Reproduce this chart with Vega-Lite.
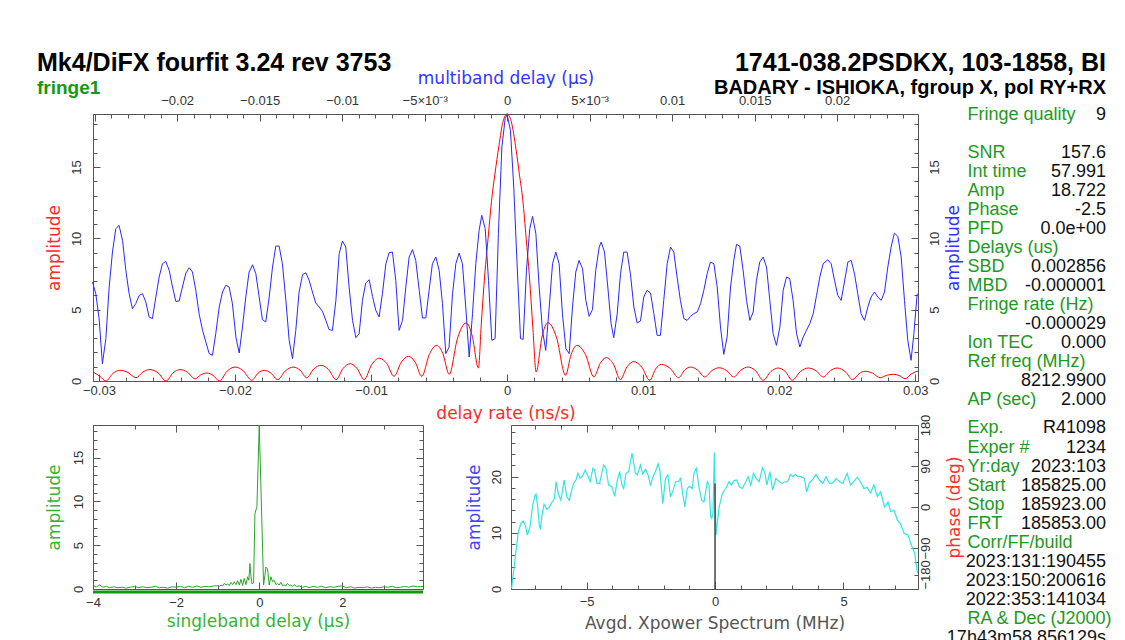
{
  "$schema": "https://vega.github.io/schema/vega-lite/v6.json",
  "padding": {"left": 37, "top": 50, "right": 0, "bottom": 0},
  "background": "white",
  "title": {"text": "Mk4/DiFX fourfit 3.24 rev 3753", "subtitle": "fringe1", "anchor": "start", "frame": "group", "dx": -56, "dy": 47, "offset": 0, "font": "Liberation Sans", "fontSize": 25, "fontWeight": "bold", "color": "#000", "subtitleFont": "Liberation Sans", "subtitleFontSize": 19, "subtitleFontWeight": "bold", "subtitleColor": "#139a13", "subtitlePadding": 3},
  "datasets": {
    "rate": [
      {"r": -0.03044, "a": 0.63}, {"r": -0.02996, "a": 0.35}, {"r": -0.02949, "a": 0}, {"r": -0.02898, "a": 0.53}, {"r": -0.02846, "a": 0.75}, {"r": -0.02787, "a": 0.6}, {"r": -0.02728, "a": 0.23}, {"r": -0.02677, "a": 0.63}, {"r": -0.02625, "a": 0.8}, {"r": -0.02566, "a": 0.57}, {"r": -0.02507, "a": 0}, {"r": -0.02456, "a": 0.57}, {"r": -0.02404, "a": 0.8}, {"r": -0.02349, "a": 0.61}, {"r": -0.02294, "a": 0.15}, {"r": -0.02251, "a": 0.44}, {"r": -0.02208, "a": 0.56}, {"r": -0.02162, "a": 0.4}, {"r": -0.02115, "a": 0}, {"r": -0.02058, "a": 0.69}, {"r": -0.02, "a": 0.98}, {"r": -0.01939, "a": 0.71}, {"r": -0.01877, "a": 0.05}, {"r": -0.01832, "a": 0.54}, {"r": -0.01787, "a": 0.75}, {"r": -0.01737, "a": 0.56}, {"r": -0.01686, "a": 0.1}, {"r": -0.01629, "a": 0.72}, {"r": -0.01571, "a": 0.98}, {"r": -0.01522, "a": 0.76}, {"r": -0.01473, "a": 0.23}, {"r": -0.01421, "a": 0.85}, {"r": -0.01368, "a": 1.1}, {"r": -0.01313, "a": 0.81}, {"r": -0.01257, "a": 0.1}, {"r": -0.01206, "a": 0.88}, {"r": -0.01154, "a": 1.21}, {"r": -0.01103, "a": 0.88}, {"r": -0.01051, "a": 0.1}, {"r": -0.00995, "a": 1.16}, {"r": -0.00939, "a": 1.6}, {"r": -0.00885, "a": 1.23}, {"r": -0.00831, "a": 0.33}, {"r": -0.00778, "a": 1.32}, {"r": -0.00725, "a": 1.73}, {"r": -0.00676, "a": 1.32}, {"r": -0.00627, "a": 0.33}, {"r": -0.00572, "a": 1.86}, {"r": -0.00517, "a": 2.5}, {"r": -0.00472, "a": 1.91}, {"r": -0.00426, "a": 0.47}, {"r": -0.00364, "a": 3.02}, {"r": -0.00301, "a": 4.07}, {"r": -0.00256, "a": 3.14}, {"r": -0.00211, "a": 0.91}, {"r": -0.0019, "a": 4.0}, {"r": -0.00164, "a": 7.5}, {"r": -0.0014, "a": 10.0}, {"r": -0.00115, "a": 12.6}, {"r": -0.0009, "a": 14.5}, {"r": -0.0006, "a": 16.5}, {"r": -0.0003, "a": 18.2}, {"r": 0, "a": 18.72}, {"r": 0.0003, "a": 18.2}, {"r": 0.00066, "a": 16.2}, {"r": 0.0009, "a": 14.5}, {"r": 0.00115, "a": 12.7}, {"r": 0.0014, "a": 10.0}, {"r": 0.00164, "a": 7.3}, {"r": 0.0019, "a": 3.6}, {"r": 0.00213, "a": 0.63}, {"r": 0.00256, "a": 3.08}, {"r": 0.00299, "a": 4.1}, {"r": 0.00364, "a": 3.02}, {"r": 0.00429, "a": 0.4}, {"r": 0.00471, "a": 1.88}, {"r": 0.00513, "a": 2.5}, {"r": 0.00576, "a": 1.85}, {"r": 0.00638, "a": 0.28}, {"r": 0.00684, "a": 1.24}, {"r": 0.00729, "a": 1.64}, {"r": 0.00781, "a": 1.19}, {"r": 0.00832, "a": 0.1}, {"r": 0.00881, "a": 0.99}, {"r": 0.0093, "a": 1.36}, {"r": 0.00989, "a": 0.98}, {"r": 0.01048, "a": 0.05}, {"r": 0.01091, "a": 0.84}, {"r": 0.01134, "a": 1.17}, {"r": 0.01198, "a": 0.89}, {"r": 0.01261, "a": 0.23}, {"r": 0.01304, "a": 0.76}, {"r": 0.01347, "a": 0.98}, {"r": 0.014, "a": 0.77}, {"r": 0.01453, "a": 0.28}, {"r": 0.01506, "a": 0.74}, {"r": 0.01558, "a": 0.93}, {"r": 0.01612, "a": 0.74}, {"r": 0.01666, "a": 0.28}, {"r": 0.01719, "a": 0.77}, {"r": 0.01772, "a": 0.98}, {"r": 0.01827, "a": 0.71}, {"r": 0.01882, "a": 0.05}, {"r": 0.01938, "a": 0.66}, {"r": 0.01993, "a": 0.91}, {"r": 0.02045, "a": 0.66}, {"r": 0.02096, "a": 0.05}, {"r": 0.02155, "a": 0.66}, {"r": 0.02213, "a": 0.91}, {"r": 0.02269, "a": 0.73}, {"r": 0.02324, "a": 0.28}, {"r": 0.02376, "a": 0.73}, {"r": 0.02427, "a": 0.91}, {"r": 0.02484, "a": 0.67}, {"r": 0.0254, "a": 0.1}, {"r": 0.02586, "a": 0.51}, {"r": 0.02631, "a": 0.68}, {"r": 0.02686, "a": 0.55}, {"r": 0.02741, "a": 0.23}, {"r": 0.0279, "a": 0.4}, {"r": 0.02839, "a": 0.47}, {"r": 0.02882, "a": 0.38}, {"r": 0.02925, "a": 0.16}, {"r": 0.02972, "a": 0.5}, {"r": 0.0302, "a": 0.7}
    ],
    "mbd": [
      {"m": -0.02513, "a": 6.94}, {"m": -0.02493, "a": 6.12}, {"m": -0.02473, "a": 4.37}, {"m": -0.02453, "a": 1.21}, {"m": -0.02432, "a": 2.97}, {"m": -0.02412, "a": 6.59}, {"m": -0.02392, "a": 9.04}, {"m": -0.02372, "a": 10.68}, {"m": -0.02352, "a": 10.91}, {"m": -0.02331, "a": 9.86}, {"m": -0.02311, "a": 7.76}, {"m": -0.02291, "a": 6.12}, {"m": -0.02271, "a": 5.07}, {"m": -0.02251, "a": 5.42}, {"m": -0.0223, "a": 6.0}, {"m": -0.0221, "a": 6.12}, {"m": -0.0219, "a": 5.54}, {"m": -0.0217, "a": 4.49}, {"m": -0.0215, "a": 4.37}, {"m": -0.02129, "a": 5.89}, {"m": -0.02109, "a": 7.29}, {"m": -0.02089, "a": 8.22}, {"m": -0.02069, "a": 8.39}, {"m": -0.02048, "a": 7.76}, {"m": -0.02028, "a": 6.59}, {"m": -0.02008, "a": 5.58}, {"m": -0.01988, "a": 5.61}, {"m": -0.01968, "a": 6.59}, {"m": -0.01947, "a": 7.57}, {"m": -0.01927, "a": 7.94}, {"m": -0.01907, "a": 7.64}, {"m": -0.01887, "a": 6.36}, {"m": -0.01867, "a": 4.72}, {"m": -0.01846, "a": 3.55}, {"m": -0.01826, "a": 2.73}, {"m": -0.01806, "a": 1.92}, {"m": -0.01786, "a": 1.8}, {"m": -0.01766, "a": 3.32}, {"m": -0.01745, "a": 5.19}, {"m": -0.01725, "a": 6.24}, {"m": -0.01705, "a": 6.71}, {"m": -0.01685, "a": 6.59}, {"m": -0.01665, "a": 5.42}, {"m": -0.01644, "a": 3.08}, {"m": -0.01624, "a": 1.96}, {"m": -0.01604, "a": 3.79}, {"m": -0.01584, "a": 5.89}, {"m": -0.01564, "a": 7.64}, {"m": -0.01543, "a": 8.15}, {"m": -0.01523, "a": 7.52}, {"m": -0.01503, "a": 5.89}, {"m": -0.01483, "a": 4.3}, {"m": -0.01463, "a": 4.14}, {"m": -0.01442, "a": 5.89}, {"m": -0.01422, "a": 7.99}, {"m": -0.01402, "a": 9.46}, {"m": -0.01382, "a": 9.46}, {"m": -0.01362, "a": 8.22}, {"m": -0.01341, "a": 5.65}, {"m": -0.01321, "a": 2.85}, {"m": -0.01301, "a": 1.57}, {"m": -0.01281, "a": 3.55}, {"m": -0.01261, "a": 6.24}, {"m": -0.0124, "a": 7.45}, {"m": -0.0122, "a": 7.59}, {"m": -0.012, "a": 7.06}, {"m": -0.0118, "a": 6.24}, {"m": -0.0116, "a": 5.47}, {"m": -0.01139, "a": 5.19}, {"m": -0.01119, "a": 4.88}, {"m": -0.01099, "a": 4.25}, {"m": -0.01079, "a": 3.6}, {"m": -0.01059, "a": 3.55}, {"m": -0.01038, "a": 5.65}, {"m": -0.01018, "a": 8.93}, {"m": -0.00998, "a": 9.81}, {"m": -0.00978, "a": 9.39}, {"m": -0.00958, "a": 6.59}, {"m": -0.00937, "a": 4.25}, {"m": -0.00917, "a": 3.04}, {"m": -0.00897, "a": 3.32}, {"m": -0.00877, "a": 5.65}, {"m": -0.00857, "a": 6.87}, {"m": -0.00836, "a": 7.1}, {"m": -0.00816, "a": 5.93}, {"m": -0.00796, "a": 4.95}, {"m": -0.00776, "a": 4.49}, {"m": -0.00756, "a": 6.12}, {"m": -0.00735, "a": 8.22}, {"m": -0.00715, "a": 9.0}, {"m": -0.00695, "a": 9.04}, {"m": -0.00675, "a": 7.06}, {"m": -0.00655, "a": 3.55}, {"m": -0.00634, "a": 4.25}, {"m": -0.00614, "a": 6.59}, {"m": -0.00594, "a": 8.69}, {"m": -0.00574, "a": 9.21}, {"m": -0.00554, "a": 8.46}, {"m": -0.00533, "a": 6.36}, {"m": -0.00513, "a": 4.42}, {"m": -0.00493, "a": 4.42}, {"m": -0.00473, "a": 6.36}, {"m": -0.00453, "a": 8.22}, {"m": -0.00432, "a": 8.69}, {"m": -0.00412, "a": 7.76}, {"m": -0.00392, "a": 5.42}, {"m": -0.00372, "a": 1.92}, {"m": -0.00352, "a": 2.38}, {"m": -0.00331, "a": 6.12}, {"m": -0.00311, "a": 8.22}, {"m": -0.00291, "a": 8.97}, {"m": -0.00271, "a": 8.22}, {"m": -0.00251, "a": 5.19}, {"m": -0.0023, "a": 1.68}, {"m": -0.0021, "a": 4.72}, {"m": -0.0019, "a": 8.22}, {"m": -0.0017, "a": 10.56}, {"m": -0.00154, "a": 11.61}, {"m": -0.00133, "a": 10.68}, {"m": -0.00113, "a": 7.06}, {"m": -0.00093, "a": 2.85}, {"m": -0.00073, "a": 2.97}, {"m": -0.00053, "a": 10.33}, {"m": -0.00032, "a": 16.4}, {"m": -0.00012, "a": 18.4}, {"m": 0, "a": 18.69},
      {"m": 0.0002, "a": 17.57}, {"m": 0.0004, "a": 13.6}, {"m": 0.00061, "a": 7.99}, {"m": 0.00081, "a": 2.97}, {"m": 0.00097, "a": 2.92}, {"m": 0.00117, "a": 7.76}, {"m": 0.00137, "a": 10.68}, {"m": 0.00154, "a": 11.54}, {"m": 0.00174, "a": 10.33}, {"m": 0.00194, "a": 6.59}, {"m": 0.00214, "a": 3.55}, {"m": 0.00234, "a": 2.15}, {"m": 0.00255, "a": 5.19}, {"m": 0.00275, "a": 8.22}, {"m": 0.00295, "a": 9.04}, {"m": 0.00315, "a": 8.22}, {"m": 0.00335, "a": 4.72}, {"m": 0.00356, "a": 2.27}, {"m": 0.00376, "a": 1.92}, {"m": 0.00396, "a": 5.19}, {"m": 0.00416, "a": 7.64}, {"m": 0.00436, "a": 8.46}, {"m": 0.00457, "a": 7.87}, {"m": 0.00477, "a": 5.65}, {"m": 0.00497, "a": 4.53}, {"m": 0.00517, "a": 5.0}, {"m": 0.00537, "a": 7.76}, {"m": 0.00558, "a": 9.39}, {"m": 0.0057, "a": 9.74}, {"m": 0.0059, "a": 9.04}, {"m": 0.0061, "a": 6.59}, {"m": 0.0063, "a": 4.02}, {"m": 0.00646, "a": 3.04}, {"m": 0.00667, "a": 4.72}, {"m": 0.00687, "a": 7.52}, {"m": 0.00707, "a": 9.04}, {"m": 0.00727, "a": 9.04}, {"m": 0.00747, "a": 7.52}, {"m": 0.00768, "a": 5.19}, {"m": 0.00788, "a": 4.07}, {"m": 0.00808, "a": 4.21}, {"m": 0.00828, "a": 5.89}, {"m": 0.00848, "a": 6.36}, {"m": 0.00869, "a": 6.17}, {"m": 0.00889, "a": 4.72}, {"m": 0.00909, "a": 3.2}, {"m": 0.00929, "a": 3.2}, {"m": 0.00949, "a": 5.65}, {"m": 0.0097, "a": 8.22}, {"m": 0.0099, "a": 9.39}, {"m": 0.0101, "a": 9.04}, {"m": 0.0103, "a": 7.29}, {"m": 0.0105, "a": 5.65}, {"m": 0.01071, "a": 4.37}, {"m": 0.01091, "a": 4.25}, {"m": 0.01111, "a": 4.53}, {"m": 0.01131, "a": 4.72}, {"m": 0.01152, "a": 4.84}, {"m": 0.01172, "a": 5.42}, {"m": 0.01192, "a": 6.36}, {"m": 0.01212, "a": 7.52}, {"m": 0.01232, "a": 8.34}, {"m": 0.01253, "a": 8.22}, {"m": 0.01273, "a": 6.59}, {"m": 0.01293, "a": 3.79}, {"m": 0.01313, "a": 1.87}, {"m": 0.01333, "a": 3.08}, {"m": 0.01354, "a": 6.59}, {"m": 0.01374, "a": 8.5}, {"m": 0.0139, "a": 9.58}, {"m": 0.0141, "a": 9.46}, {"m": 0.0143, "a": 7.76}, {"m": 0.01451, "a": 5.65}, {"m": 0.01471, "a": 4.25}, {"m": 0.01491, "a": 4.84}, {"m": 0.01511, "a": 7.06}, {"m": 0.01531, "a": 8.34}, {"m": 0.01552, "a": 8.69}, {"m": 0.01572, "a": 7.99}, {"m": 0.01592, "a": 5.65}, {"m": 0.01612, "a": 3.32}, {"m": 0.01632, "a": 2.5}, {"m": 0.01653, "a": 3.79}, {"m": 0.01673, "a": 6.36}, {"m": 0.01693, "a": 7.29}, {"m": 0.01713, "a": 7.17}, {"m": 0.01733, "a": 5.65}, {"m": 0.01754, "a": 3.32}, {"m": 0.01774, "a": 2.38}, {"m": 0.01794, "a": 3.08}, {"m": 0.01814, "a": 3.55}, {"m": 0.01834, "a": 4.02}, {"m": 0.01855, "a": 4.72}, {"m": 0.01875, "a": 6.0}, {"m": 0.01895, "a": 7.29}, {"m": 0.01915, "a": 8.22}, {"m": 0.01943, "a": 8.5}, {"m": 0.01964, "a": 8.22}, {"m": 0.01984, "a": 7.06}, {"m": 0.02004, "a": 6.0}, {"m": 0.02024, "a": 5.65}, {"m": 0.02044, "a": 6.94}, {"m": 0.02065, "a": 8.34}, {"m": 0.02085, "a": 8.46}, {"m": 0.02105, "a": 7.52}, {"m": 0.02125, "a": 6.12}, {"m": 0.02145, "a": 4.72}, {"m": 0.02166, "a": 4.25}, {"m": 0.02186, "a": 5.19}, {"m": 0.02206, "a": 5.89}, {"m": 0.02226, "a": 6.24}, {"m": 0.02246, "a": 5.89}, {"m": 0.02267, "a": 5.65}, {"m": 0.02287, "a": 6.24}, {"m": 0.02307, "a": 7.99}, {"m": 0.02327, "a": 9.39}, {"m": 0.02347, "a": 10.37}, {"m": 0.02368, "a": 10.14}, {"m": 0.02388, "a": 8.69}, {"m": 0.02408, "a": 5.65}, {"m": 0.02428, "a": 2.85}, {"m": 0.02448, "a": 1.45}, {"m": 0.02465, "a": 3.32}, {"m": 0.02485, "a": 6.12}
    ],
    "sbd": [
      {"s": -4, "a": 0.35}, {"s": -3.92, "a": 0.25}, {"s": -3.84, "a": 0.45}, {"s": -3.76, "a": 0.2}, {"s": -3.68, "a": 0.3}, {"s": -3.6, "a": 0.15}, {"s": -3.5, "a": 0.25}, {"s": -3.4, "a": 0.15}, {"s": -3.3, "a": 0.2}, {"s": -3.2, "a": 0.1}, {"s": -3.1, "a": 0.2}, {"s": -3.0, "a": 0.3}, {"s": -2.9, "a": 0.15}, {"s": -2.8, "a": 0.25}, {"s": -2.7, "a": 0.15}, {"s": -2.6, "a": 0.2}, {"s": -2.5, "a": 0.3}, {"s": -2.4, "a": 0.15}, {"s": -2.3, "a": 0.2}, {"s": -2.2, "a": 0.1}, {"s": -2.1, "a": 0.25}, {"s": -2.0, "a": 0.2}, {"s": -1.9, "a": 0.3}, {"s": -1.8, "a": 0.15}, {"s": -1.7, "a": 0.3}, {"s": -1.6, "a": 0.2}, {"s": -1.5, "a": 0.35}, {"s": -1.4, "a": 0.2}, {"s": -1.3, "a": 0.3}, {"s": -1.2, "a": 0.25}, {"s": -1.1, "a": 0.35}, {"s": -1.0, "a": 0.38}, {"s": -0.96, "a": 0.3}, {"s": -0.92, "a": 0.45}, {"s": -0.88, "a": 0.35}, {"s": -0.84, "a": 0.64}, {"s": -0.8, "a": 0.45}, {"s": -0.76, "a": 0.57}, {"s": -0.72, "a": 0.4}, {"s": -0.68, "a": 0.76}, {"s": -0.64, "a": 0.5}, {"s": -0.6, "a": 0.83}, {"s": -0.56, "a": 0.5}, {"s": -0.52, "a": 0.95}, {"s": -0.48, "a": 0.45}, {"s": -0.44, "a": 1.1}, {"s": -0.4, "a": 0.4}, {"s": -0.36, "a": 1.2}, {"s": -0.32, "a": 0.5}, {"s": -0.28, "a": 1.4}, {"s": -0.25, "a": 1.0}, {"s": -0.224, "a": 2.9}, {"s": -0.2, "a": 1.5}, {"s": -0.176, "a": 0.6}, {"s": -0.136, "a": 0.7}, {"s": -0.104, "a": 8.6}, {"s": -0.056, "a": 9.4}, {"s": 0, "a": 18.7}, {"s": 0.104, "a": 0.45}, {"s": 0.135, "a": 1.5}, {"s": 0.16, "a": 2.5}, {"s": 0.2, "a": 2.3}, {"s": 0.24, "a": 0.45}, {"s": 0.28, "a": 1.4}, {"s": 0.32, "a": 0.83}, {"s": 0.36, "a": 1.0}, {"s": 0.4, "a": 0.5}, {"s": 0.44, "a": 0.64}, {"s": 0.48, "a": 0.45}, {"s": 0.52, "a": 0.76}, {"s": 0.56, "a": 0.4}, {"s": 0.6, "a": 0.45}, {"s": 0.64, "a": 0.35}, {"s": 0.68, "a": 0.64}, {"s": 0.72, "a": 0.4}, {"s": 0.76, "a": 0.45}, {"s": 0.8, "a": 0.3}, {"s": 0.84, "a": 0.5}, {"s": 0.9, "a": 0.3}, {"s": 0.96, "a": 0.35}, {"s": 1.04, "a": 0.2}, {"s": 1.12, "a": 0.3}, {"s": 1.2, "a": 0.15}, {"s": 1.3, "a": 0.3}, {"s": 1.4, "a": 0.2}, {"s": 1.5, "a": 0.3}, {"s": 1.6, "a": 0.15}, {"s": 1.7, "a": 0.25}, {"s": 1.8, "a": 0.2}, {"s": 1.9, "a": 0.3}, {"s": 2.0, "a": 0.35}, {"s": 2.1, "a": 0.15}, {"s": 2.2, "a": 0.25}, {"s": 2.3, "a": 0.1}, {"s": 2.4, "a": 0.2}, {"s": 2.5, "a": 0.15}, {"s": 2.6, "a": 0.25}, {"s": 2.7, "a": 0.1}, {"s": 2.8, "a": 0.2}, {"s": 2.9, "a": 0.15}, {"s": 3.0, "a": 0.25}, {"s": 3.1, "a": 0.2}, {"s": 3.2, "a": 0.3}, {"s": 3.3, "a": 0.15}, {"s": 3.4, "a": 0.2}, {"s": 3.5, "a": 0.3}, {"s": 3.6, "a": 0.2}, {"s": 3.7, "a": 0.35}, {"s": 3.8, "a": 0.25}, {"s": 3.94, "a": 0.3}
    ],
    "sbdwin": [{"lo": -4, "hi": 3.94}],
    "xps": [
      {"f": -7.917, "a": 0.1}, {"f": -7.786, "a": 5.2}, {"f": -7.656, "a": 10.2}, {"f": -7.552, "a": 11.7}, {"f": -7.461, "a": 12.1}, {"f": -7.37, "a": 11.2}, {"f": -7.305, "a": 9.6}, {"f": -7.201, "a": 11.1}, {"f": -7.096, "a": 14.9}, {"f": -7.005, "a": 16.7}, {"f": -6.966, "a": 16.9}, {"f": -6.901, "a": 14.6}, {"f": -6.836, "a": 11.2}, {"f": -6.797, "a": 10.8}, {"f": -6.719, "a": 13.5}, {"f": -6.654, "a": 15.1}, {"f": -6.549, "a": 14.2}, {"f": -6.458, "a": 14.5}, {"f": -6.354, "a": 15.4}, {"f": -6.25, "a": 16.1}, {"f": -6.185, "a": 19.1}, {"f": -6.094, "a": 16.9}, {"f": -6.003, "a": 15.8}, {"f": -5.872, "a": 19.4}, {"f": -5.768, "a": 16.4}, {"f": -5.677, "a": 15.8}, {"f": -5.508, "a": 18.8}, {"f": -5.404, "a": 19.5}, {"f": -5.339, "a": 20.6}, {"f": -5.247, "a": 19.7}, {"f": -5.156, "a": 20.1}, {"f": -5.052, "a": 21.2}, {"f": -4.948, "a": 20.1}, {"f": -4.857, "a": 19.1}, {"f": -4.753, "a": 21.5}, {"f": -4.688, "a": 21.2}, {"f": -4.596, "a": 18.8}, {"f": -4.492, "a": 18.8}, {"f": -4.336, "a": 22.1}, {"f": -4.245, "a": 21.5}, {"f": -4.141, "a": 18.5}, {"f": -4.01, "a": 18.2}, {"f": -3.906, "a": 16.5}, {"f": -3.802, "a": 19.4}, {"f": -3.711, "a": 20.9}, {"f": -3.62, "a": 18.5}, {"f": -3.555, "a": 17.9}, {"f": -3.464, "a": 20.6}, {"f": -3.359, "a": 20.9}, {"f": -3.229, "a": 24.2}, {"f": -3.099, "a": 20.6}, {"f": -3.021, "a": 20.3}, {"f": -2.904, "a": 22.1}, {"f": -2.813, "a": 20.5}, {"f": -2.708, "a": 21.3}, {"f": -2.604, "a": 20.3}, {"f": -2.513, "a": 18.5}, {"f": -2.409, "a": 20.0}, {"f": -2.318, "a": 20.9}, {"f": -2.214, "a": 22.3}, {"f": -2.148, "a": 21.2}, {"f": -2.031, "a": 15.2}, {"f": -1.927, "a": 19.7}, {"f": -1.836, "a": 20.3}, {"f": -1.732, "a": 16.4}, {"f": -1.628, "a": 17.6}, {"f": -1.536, "a": 19.1}, {"f": -1.432, "a": 19.1}, {"f": -1.341, "a": 19.7}, {"f": -1.25, "a": 16.7}, {"f": -1.172, "a": 14.6}, {"f": -1.081, "a": 17.9}, {"f": -0.99, "a": 18.3}, {"f": -0.885, "a": 17.9}, {"f": -0.82, "a": 20.6}, {"f": -0.729, "a": 21.5}, {"f": -0.625, "a": 18.2}, {"f": -0.521, "a": 15.8}, {"f": -0.43, "a": 15.5}, {"f": -0.299, "a": 19.1}, {"f": -0.234, "a": 18.5}, {"f": -0.169, "a": 12.9}, {"f": -0.13, "a": 12.6}, {"f": -0.078, "a": 13.5}, {"f": -0.026, "a": 24.3}, {"f": 0.039, "a": 9.6}, {"f": 0.156, "a": 14.5}, {"f": 0.286, "a": 17.0}, {"f": 0.417, "a": 17.9}, {"f": 0.547, "a": 19.1}, {"f": 0.638, "a": 18.5}, {"f": 0.742, "a": 19.3}, {"f": 0.846, "a": 19.4}, {"f": 0.951, "a": 18.2}, {"f": 1.068, "a": 17.9}, {"f": 1.198, "a": 19.1}, {"f": 1.289, "a": 20.0}, {"f": 1.393, "a": 18.5}, {"f": 1.497, "a": 20.6}, {"f": 1.602, "a": 19.7}, {"f": 1.719, "a": 19.1}, {"f": 1.849, "a": 21.6}, {"f": 1.94, "a": 20.7}, {"f": 2.018, "a": 18.5}, {"f": 2.135, "a": 20.9}, {"f": 2.24, "a": 17.6}, {"f": 2.37, "a": 19.7}, {"f": 2.5, "a": 19.1}, {"f": 2.604, "a": 18.8}, {"f": 2.721, "a": 19.1}, {"f": 2.826, "a": 19.1}, {"f": 2.93, "a": 20.4}, {"f": 3.034, "a": 20.0}, {"f": 3.125, "a": 20.4}, {"f": 3.242, "a": 20.0}, {"f": 3.346, "a": 20.0}, {"f": 3.477, "a": 19.7}, {"f": 3.568, "a": 17.3}, {"f": 3.672, "a": 18.9}, {"f": 3.802, "a": 19.5}, {"f": 3.932, "a": 20.4}, {"f": 4.063, "a": 19.4}, {"f": 4.193, "a": 18.8}, {"f": 4.323, "a": 20.0}, {"f": 4.453, "a": 18.8}, {"f": 4.583, "a": 18.9}, {"f": 4.714, "a": 19.7}, {"f": 4.844, "a": 19.1}, {"f": 4.974, "a": 18.8}, {"f": 5.143, "a": 20.6}, {"f": 5.273, "a": 18.5}, {"f": 5.404, "a": 19.1}, {"f": 5.534, "a": 19.9}, {"f": 5.664, "a": 19.1}, {"f": 5.794, "a": 17.9}, {"f": 5.924, "a": 18.1}, {"f": 6.055, "a": 17.1}, {"f": 6.185, "a": 18.5}, {"f": 6.315, "a": 16.5}, {"f": 6.445, "a": 17.3}, {"f": 6.602, "a": 14.6}, {"f": 6.732, "a": 15.5}, {"f": 6.836, "a": 13.8}, {"f": 6.966, "a": 14.0}, {"f": 7.096, "a": 12.3}, {"f": 7.227, "a": 11.5}, {"f": 7.357, "a": 9.9}, {"f": 7.513, "a": 9.6}, {"f": 7.643, "a": 7.8}, {"f": 7.773, "a": 6.3}, {"f": 7.878, "a": 2.8}
    ],
    "dc": [{"f": 0, "lo": 0, "hi": 18.8}],
    "info": [
      {"line": 0, "label": "Fringe quality", "value": "9"},
      {"line": 2, "label": "SNR", "value": "157.6"},
      {"line": 3, "label": "Int time", "value": "57.991"},
      {"line": 4, "label": "Amp", "value": "18.722"},
      {"line": 5, "label": "Phase", "value": "-2.5"},
      {"line": 6, "label": "PFD", "value": "0.0e+00"},
      {"line": 7, "label": "Delays (us)", "value": ""},
      {"line": 8, "label": "SBD", "value": "0.002856"},
      {"line": 9, "label": "MBD", "value": "-0.000001"},
      {"line": 10, "label": "Fringe rate (Hz)", "value": ""},
      {"line": 11, "label": "", "value": "-0.000029"},
      {"line": 12, "label": "Ion TEC", "value": "0.000"},
      {"line": 13, "label": "Ref freq (MHz)", "value": ""},
      {"line": 14, "label": "", "value": "8212.9900"},
      {"line": 15, "label": "AP (sec)", "value": "2.000"},
      {"line": 16.5, "label": "Exp.", "value": "R41098"},
      {"line": 17.5, "label": "Exper #", "value": "1234"},
      {"line": 18.5, "label": "Yr:day", "value": "2023:103"},
      {"line": 19.5, "label": "Start", "value": "185825.00"},
      {"line": 20.5, "label": "Stop", "value": "185923.00"},
      {"line": 21.5, "label": "FRT", "value": "185853.00"},
      {"line": 22.5, "label": "Corr/FF/build", "value": ""},
      {"line": 23.5, "label": "", "value": "2023:131:190455"},
      {"line": 24.5, "label": "", "value": "2023:150:200616"},
      {"line": 25.5, "label": "", "value": "2022:353:141034"},
      {"line": 26.5, "label": "RA & Dec (J2000)", "value": ""},
      {"line": 27.5, "label": "", "value": "17h43m58.856129s"}
    ]
  },
  "spacing": 847,
  "bounds": "flush",
  "hconcat": [
    {
      "spacing": 44,
      "bounds": "flush",
      "vconcat": [
        {
          "width": 825,
          "height": 267,
          "layer": [
            {
              "data": {"name": "rate"},
              "mark": {"type": "line", "color": "#ff0000", "strokeWidth": 1, "interpolate": "monotone"},
              "encoding": {
                "x": {"field": "r", "type": "quantitative", "scale": {"domain": [-0.03044, 0.0302], "nice": false, "zero": false},
                  "axis": {"orient": "bottom", "values": [-0.03, -0.028, -0.026, -0.024, -0.022, -0.02, -0.018, -0.016, -0.014, -0.012, -0.01, -0.008, -0.006, -0.004, -0.002, 0, 0.002, 0.004, 0.006, 0.008, 0.01, 0.012, 0.014, 0.016, 0.018, 0.02, 0.022, 0.024, 0.026, 0.028, 0.03],
                    "format": "~g",
                    "labelExpr": "abs(datum.value*100 - round(datum.value*100)) < 0.001 ? datum.label : ''",
                    "tickSize": {"condition": {"test": "abs(datum.value*100 - round(datum.value*100)) < 0.001", "value": -7}, "value": -4},
                    "labelPadding": 10, "title": "delay rate (ns/s)", "titleColor": "#ff2a2a", "titlePadding": 5}},
                "y": {"field": "a", "type": "quantitative", "scale": {"domain": [0, 18.72], "nice": false},
                  "axis": {"orient": "left", "values": [0, 1, 2, 3, 4, 5, 6, 7, 8, 9, 10, 11, 12, 13, 14, 15, 16, 17, 18],
                    "labelExpr": "datum.value % 5 === 0 ? datum.label : ''",
                    "tickSize": {"condition": {"test": "datum.value % 5 === 0", "value": -7}, "value": -4},
                    "labelAngle": -90, "labelAlign": "center", "labelBaseline": "bottom", "labelPadding": 17,
                    "title": "amplitude", "titleColor": "#ff2a2a", "titlePadding": 4}}
              }
            },
            {
              "data": {"name": "mbd"},
              "mark": {"type": "line", "color": "#2828ff", "strokeWidth": 1},
              "encoding": {
                "x": {"field": "m", "type": "quantitative", "scale": {"domain": [-0.0251, 0.0249], "nice": false, "zero": false},
                  "axis": {"orient": "top", "values": [-0.025, -0.024, -0.023, -0.022, -0.021, -0.02, -0.019, -0.018, -0.017, -0.016, -0.015, -0.014, -0.013, -0.012, -0.011, -0.01, -0.009, -0.008, -0.007, -0.006, -0.005, -0.004, -0.003, -0.002, -0.001, 0, 0.001, 0.002, 0.003, 0.004, 0.005, 0.006, 0.007, 0.008, 0.009, 0.01, 0.011, 0.012, 0.013, 0.014, 0.015, 0.016, 0.017, 0.018, 0.019, 0.02, 0.021, 0.022, 0.023, 0.024],
                    "format": "~g",
                    "labelExpr": "abs(datum.value + 0.005) < 1e-7 ? '−5×10⁻³' : abs(datum.value - 0.005) < 1e-7 ? '5×10⁻³' : ((abs(datum.value*200 - round(datum.value*200)) < 0.001 && abs(datum.value) < 0.0245) ? datum.label : '')",
                    "tickSize": {"condition": {"test": "abs(datum.value*200 - round(datum.value*200)) < 0.001", "value": -7}, "value": -4},
                    "labelPadding": 14, "title": "multiband delay (μs)", "titleColor": "#3333ff", "titlePadding": 4}},
                "y": {"field": "a", "type": "quantitative", "scale": {"domain": [0, 18.72], "nice": false},
                  "axis": {"orient": "right", "values": [0, 1, 2, 3, 4, 5, 6, 7, 8, 9, 10, 11, 12, 13, 14, 15, 16, 17, 18],
                    "labelExpr": "datum.value % 5 === 0 ? datum.label : ''",
                    "tickSize": {"condition": {"test": "datum.value % 5 === 0", "value": -7}, "value": -4},
                    "labelAngle": -90, "labelAlign": "center", "labelBaseline": "top", "labelPadding": 17,
                    "title": "amplitude", "titleColor": "#3333ff", "titleAngle": -90, "titleBaseline": "top", "titlePadding": 1}}
              }
            }
          ],
          "resolve": {"scale": {"x": "independent", "y": "independent"}, "axis": {"x": "independent", "y": "independent"}}
        },
        {
          "spacing": 88,
          "bounds": "flush",
          "hconcat": [
            {
              "width": 330,
              "height": 164,
              "layer": [
                {
                  "data": {"name": "sbd"},
                  "mark": {"type": "line", "color": "#2aa52a", "strokeWidth": 1},
                  "encoding": {
                    "x": {"field": "s", "type": "quantitative", "scale": {"domain": [-4, 3.94], "nice": false, "zero": false},
                      "axis": {"orient": "bottom", "values": [-4, -3, -2, -1, 0, 1, 2, 3],
                        "labelExpr": "datum.value % 2 === 0 ? datum.label : ''",
                        "tickSize": {"condition": {"test": "datum.value % 2 === 0", "value": -7}, "value": -4},
                        "labelPadding": 14, "title": "singleband delay (μs)", "titleColor": "#33b533", "titlePadding": 1}},
                    "y": {"field": "a", "type": "quantitative", "scale": {"domain": [0, 18.72], "nice": false},
                      "axis": {"orient": "left", "values": [0, 1, 2, 3, 4, 5, 6, 7, 8, 9, 10, 11, 12, 13, 14, 15, 16, 17, 18],
                        "labelExpr": "datum.value % 5 === 0 ? datum.label : ''",
                        "tickSize": {"condition": {"test": "datum.value % 5 === 0", "value": -7}, "value": -4},
                        "labelAngle": -90, "labelAlign": "center", "labelBaseline": "bottom", "labelPadding": 15,
                        "title": "amplitude", "titleColor": "#33b533", "titlePadding": 6}}
                  }
                },
                {
                  "data": {"name": "sbdwin"},
                  "mark": {"type": "rule", "color": "#139a13", "strokeWidth": 3},
                  "encoding": {
                    "x": {"field": "lo", "type": "quantitative", "scale": {"domain": [-4, 3.94], "nice": false, "zero": false},
                      "axis": {"orient": "top", "values": [-4, -3, -2, -1, 0, 1, 2, 3], "labels": false,
                        "tickSize": {"condition": {"test": "datum.value % 2 === 0", "value": -7}, "value": -4}, "title": null}},
                    "x2": {"field": "hi"},
                    "y": {"datum": -0.35, "type": "quantitative", "scale": {"domain": [0, 18.72], "nice": false},
                      "axis": {"orient": "right", "values": [0, 1, 2, 3, 4, 5, 6, 7, 8, 9, 10, 11, 12, 13, 14, 15, 16, 17, 18], "labels": false,
                        "tickSize": {"condition": {"test": "datum.value % 5 === 0", "value": -7}, "value": -4}, "title": null}}
                  }
                }
              ],
              "resolve": {"axis": {"x": "independent", "y": "independent"}}
            },
            {
              "width": 407,
              "height": 164,
              "layer": [
                {
                  "data": {"name": "xps"},
                  "mark": {"type": "line", "color": "#2ee6e6", "strokeWidth": 1.2},
                  "encoding": {
                    "x": {"field": "f", "type": "quantitative", "scale": {"domain": [-7.94, 7.9], "nice": false, "zero": false},
                      "axis": {"orient": "bottom", "values": [-7, -6, -5, -4, -3, -2, -1, 0, 1, 2, 3, 4, 5, 6, 7],
                        "labelExpr": "datum.value % 5 === 0 ? datum.label : ''",
                        "tickSize": {"condition": {"test": "datum.value % 5 === 0", "value": -7}, "value": -4},
                        "labelPadding": 13, "title": "Avgd. Xpower Spectrum (MHz)", "titleColor": "#555555", "titlePadding": 4}},
                    "y": {"field": "a", "type": "quantitative", "scale": {"domain": [0, 29.2], "nice": false},
                      "axis": {"orient": "left", "values": [0, 2, 4, 6, 8, 10, 12, 14, 16, 18, 20, 22, 24, 26, 28],
                        "labelExpr": "datum.value % 10 === 0 ? datum.label : ''",
                        "tickSize": {"condition": {"test": "datum.value % 10 === 0", "value": -7}, "value": -4},
                        "labelAngle": -90, "labelAlign": "center", "labelBaseline": "bottom", "labelPadding": 15,
                        "title": "amplitude", "titleColor": "#4444ff", "titlePadding": 4}}
                  }
                },
                {
                  "data": {"name": "dc"},
                  "mark": {"type": "rule", "color": "#444444", "strokeWidth": 1.5},
                  "encoding": {
                    "x": {"field": "f", "type": "quantitative", "scale": {"domain": [-7.94, 7.9], "nice": false, "zero": false},
                      "axis": {"orient": "top", "values": [-7, -6, -5, -4, -3, -2, -1, 0, 1, 2, 3, 4, 5, 6, 7], "labels": false,
                        "tickSize": {"condition": {"test": "datum.value % 5 === 0", "value": -7}, "value": -4}, "title": null}},
                    "y": {"field": "lo", "type": "quantitative", "scale": {"domain": [0, 29.2], "nice": false}, "axis": null},
                    "y2": {"field": "hi"}
                  }
                },
                {
                  "data": {"name": "dc"},
                  "mark": {"type": "rule", "opacity": 0},
                  "encoding": {
                    "y": {"datum": 0, "type": "quantitative", "scale": {"domain": [-180, 180], "nice": false, "zero": false},
                      "axis": {"orient": "right", "values": [-180, -150, -120, -90, -60, -30, 0, 30, 60, 90, 120, 150, 180],
                        "labelExpr": "datum.value % 90 === 0 ? datum.label : ''",
                        "tickSize": {"condition": {"test": "datum.value % 90 === 0", "value": -7}, "value": -4},
                        "labelAngle": -90, "labelAlign": {"condition": {"test": "datum.value === -180", "value": "left"}, "value": "center"}, "labelBaseline": "top", "labelPadding": 8,
                        "title": "phase (deg)", "titleColor": "#ff3030", "titleAngle": -90, "titleBaseline": "top", "titlePadding": 11}}
                  }
                }
              ],
              "resolve": {"scale": {"y": "independent"}, "axis": {"x": "independent", "y": "independent"}}
            }
          ]
        }
      ]
    },
    {
      "width": 166,
      "height": 526,
      "view": {"stroke": null},
      "title": {"text": "1741-038.2PSDKX, 103-1858, BI", "subtitle": "BADARY - ISHIOKA, fgroup X, pol RY+RX", "anchor": "end", "frame": "group", "offset": 8, "font": "Liberation Sans", "fontSize": 25, "fontWeight": "bold", "color": "#000", "subtitleFont": "Liberation Sans", "subtitleFontSize": 20, "subtitleFontWeight": "bold", "subtitleColor": "#000", "subtitlePadding": 2},
      "data": {"name": "info"},
      "encoding": {"y": {"field": "line", "type": "quantitative", "scale": {"domain": [-0.05, 27.63], "reverse": true, "nice": false, "zero": false}, "axis": null}},
      "layer": [
        {"mark": {"type": "text", "align": "left", "baseline": "middle", "font": "Liberation Sans", "fontSize": 18, "color": "#1d9a1d"},
         "encoding": {"x": {"datum": 0, "type": "quantitative", "scale": {"domain": [-0.1986, 1], "nice": false, "zero": false}, "axis": null}, "text": {"field": "label"}}},
        {"transform": [{"filter": "datum.line < 27"}],
         "mark": {"type": "text", "align": "right", "baseline": "middle", "font": "Liberation Sans", "fontSize": 18, "color": "#111111"},
         "encoding": {"x": {"datum": 1, "type": "quantitative", "scale": {"domain": [-0.1986, 1], "nice": false, "zero": false}, "axis": null}, "text": {"field": "value"}}},
        {"transform": [{"filter": "datum.line >= 27"}],
         "mark": {"type": "text", "align": "right", "baseline": "middle", "font": "Liberation Sans", "fontSize": 18, "color": "#111111", "clip": true},
         "encoding": {"x": {"datum": 1, "type": "quantitative", "scale": {"domain": [-0.1986, 1], "nice": false, "zero": false}, "axis": null}, "text": {"field": "value"}}}
      ]
    }
  ],
  "config": {
    "view": {"stroke": "#555555", "strokeWidth": 1},
    "axis": {"domain": false, "grid": false, "labelFont": "Liberation Sans", "labelFontSize": 13, "labelColor": "#333333", "tickColor": "#555555", "tickWidth": 1, "labelOverlap": false, "labelFlush": false, "titleFont": "DejaVu Sans", "titleFontSize": 17, "titleFontWeight": "normal"}
  }
}
